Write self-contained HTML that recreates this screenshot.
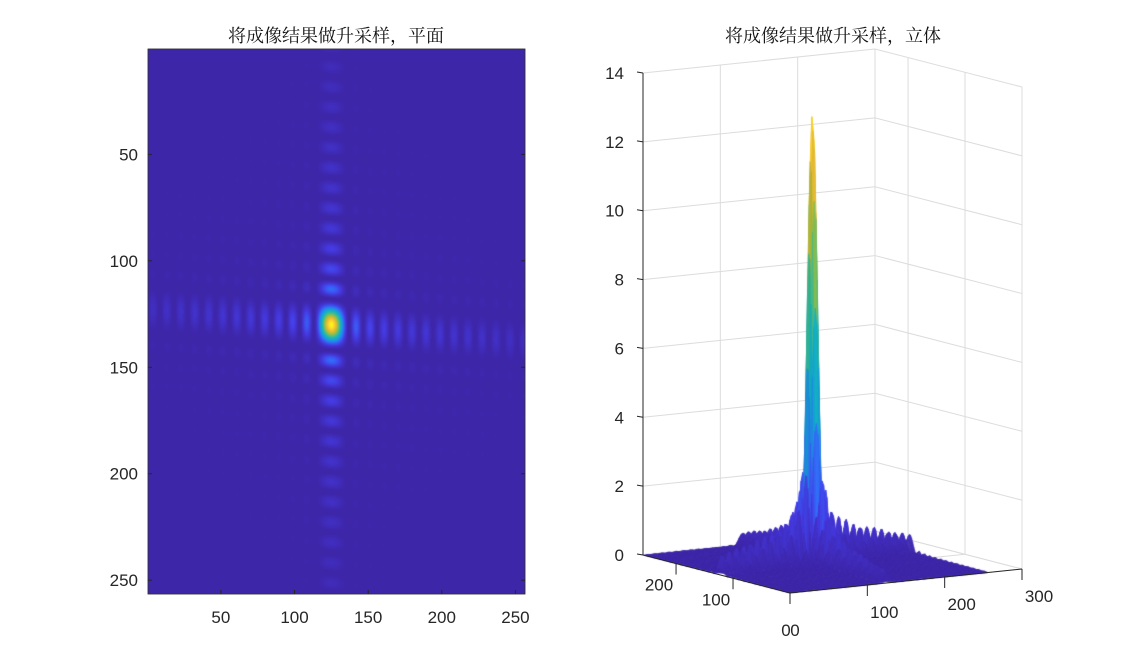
<!DOCTYPE html>
<html><head><meta charset="utf-8">
<style>
body{margin:0;background:#fff;width:1129px;height:667px;overflow:hidden;position:relative;font-family:"Liberation Sans",sans-serif}
canvas,svg{position:absolute;left:0;top:0}
</style></head>
<body>
<canvas id="cv" width="1129" height="667"></canvas>
<svg id="sv" width="1129" height="667"></svg>
<script>
// ---- data ----
const peakValue = 13.1;
const peakCol = 125;
const peakRow = 130;
const ridgeTilt = 0.059;
const lobePeriod = 9.5;
const mainHalfWidth = 12;
const hLobes = [1, 0.17, 0.12, 0.1, 0.09, 0.08, 0.075, 0.07, 0.065, 0.06, 0.055, 0.05, 0.045, 0.04];
const vLobes = [1, 0.2, 0.13, 0.1, 0.08, 0.07, 0.06, 0.055, 0.05, 0.045, 0.04, 0.035, 0.03, 0.025];
const imgXTicks = [50, 100, 150, 200, 250];
const imgYTicks = [50, 100, 150, 200, 250];
const zTicks = [0, 2, 4, 6, 8, 10, 12, 14];
const xTicks3 = [0, 100, 200, 300];
const yTicks3 = [0, 100, 200];
const N = 256;

function prof(d, lobes){
  d = Math.abs(d); const P = lobePeriod, W = mainHalfWidth;
  if (d < W) { const c = Math.cos(Math.PI*d/(2*W)); return c*c; }
  const k = Math.floor((d-W)/P)+1;
  if (k >= lobes.length) return 0;
  const s = Math.sin(Math.PI*(d-W-(k-1)*P)/P); return lobes[k]*s*s;
}
function val(c, r){
  const dr = r - (peakRow + ridgeTilt*(c-peakCol));
  const dc = c - peakCol;
  return peakValue * prof(dc, hLobes) * prof(dr, vLobes);
}
const stops=[[0,62,38,168],[0.1,70,60,230],[0.2,50,110,250],[0.3,30,150,225],[0.4,15,175,205],[0.5,35,185,170],[0.6,90,192,120],[0.7,160,190,65],[0.8,215,185,50],[0.9,252,195,55],[1,249,250,20]];
function parula(t){
  t=Math.max(0,Math.min(1,t));
  for(let i=1;i<stops.length;i++){ if(t<=stops[i][0]){const a=stops[i-1],b=stops[i],f=(t-a[0])/(b[0]-a[0]);
    return [a[1]+f*(b[1]-a[1]),a[2]+f*(b[2]-a[2]),a[3]+f*(b[3]-a[3])];}}
  return stops[stops.length-1].slice(1);
}
const cv=document.getElementById('cv'), ctx=cv.getContext('2d');
const sv=document.getElementById('sv'), NS='http://www.w3.org/2000/svg';
function el(tag, attrs, text){const e=document.createElementNS(NS,tag);for(const k in attrs)e.setAttribute(k,attrs[k]);if(text!==undefined)e.textContent=text;sv.appendChild(e);return e;}

// ---- left image ----
const L={x:148,y:49,w:377,h:545};
const ix=c=>L.x+(c-0.5)*L.w/N, iy=r=>L.y+(r-0.5)*L.h/N;
const off=document.createElement('canvas');off.width=N;off.height=N;
const octx=off.getContext('2d');const img=octx.createImageData(N,N);
for(let r=1;r<=N;r++)for(let c=1;c<=N;c++){
  const col=parula(val(c,r)/peakValue);const k=((r-1)*N+(c-1))*4;
  img.data[k]=col[0];img.data[k+1]=col[1];img.data[k+2]=col[2];img.data[k+3]=255;
}
octx.putImageData(img,0,0);
ctx.imageSmoothingEnabled=true;
ctx.drawImage(off,L.x,L.y,L.w,L.h);
let e=el('rect',{x:L.x,y:L.y,width:L.w,height:L.h,fill:'none',stroke:'#262626','stroke-width':0.8});

imgXTicks.forEach(t=>{const x=ix(t);
  el('line',{x1:x,y1:L.y+L.h,x2:x,y2:L.y+L.h-4,stroke:'#262626'});
  e=el('text',{x:x,y:623,'text-anchor':'middle','font-size':17,fill:'#262626'},t);
  });
imgYTicks.forEach(t=>{const y=iy(t);
  el('line',{x1:L.x,y1:y,x2:L.x+4,y2:y,stroke:'#262626'});
  el('line',{x1:L.x+L.w,y1:y,x2:L.x+L.w-4,y2:y,stroke:'#262626'});
  e=el('text',{x:138,y:y+6,'text-anchor':'end','font-size':17,fill:'#262626'},t);
  });
e=el('text',{x:336,y:42,'text-anchor':'middle','font-size':18,fill:'#111','font-family':'"Noto Serif CJK SC","Noto Sans CJK SC",serif'},'将成像结果做升采样，平面');


// ---- right 3D ----
const O={x:790,y:593}, XMAX=300, YMAX=258, ZS=482/14;
const ex={x:232/300,y:-24/300}, ey={x:-147/YMAX,y:-38/YMAX};
function P3(x,y,z){return [O.x+x*ex.x+y*ey.x, O.y+x*ex.y+y*ey.y-z*ZS];}
const g='#dcdcdc';
zTicks.forEach(z=>{const a=P3(0,YMAX,z),b=P3(XMAX,YMAX,z),c=P3(XMAX,0,z);
  el('polyline',{points:`${a} ${b} ${c}`,fill:'none',stroke:g,'stroke-width':1});});
xTicks3.forEach(x=>{const a=P3(x,YMAX,0),b=P3(x,YMAX,14);el('line',{x1:a[0],y1:a[1],x2:b[0],y2:b[1],stroke:g});});
yTicks3.forEach(y=>{const a=P3(XMAX,y,0),b=P3(XMAX,y,14);el('line',{x1:a[0],y1:a[1],x2:b[0],y2:b[1],stroke:g});});
xTicks3.forEach(x=>{const a=P3(x,0,0),b=P3(x,YMAX,0);el('line',{x1:a[0],y1:a[1],x2:b[0],y2:b[1],stroke:g});});
yTicks3.forEach(y=>{const a=P3(0,y,0),b=P3(XMAX,y,0);el('line',{x1:a[0],y1:a[1],x2:b[0],y2:b[1],stroke:g});});
const cv2=document.createElement('canvas');cv2.width=1129;cv2.height=667;


cv2.style.position='absolute';cv2.style.left='0';cv2.style.top='0';
document.body.appendChild(cv2);
const c2=cv2.getContext('2d');
const S=2, M=N/S;
const Z=[];for(let i=0;i<=M;i++){Z[i]=[];for(let j=0;j<=M;j++)Z[i][j]=val(1+i*S*(N-1)/N,1+j*S*(N-1)/N);}
const quads=[];
for(let i=0;i<M;i++)for(let j=0;j<M;j++)quads.push([i,j]);
quads.sort((a,b)=>(b[0]+b[1])-(a[0]+a[1]));
quads.forEach(([i,j])=>{
  const x0=i*S,x1=(i+1)*S,y0=j*S,y1=(j+1)*S;
  const z00=Z[i][j],z10=Z[i+1][j],z11=Z[i+1][j+1],z01=Z[i][j+1];
  const zm=(z00+z10+z11+z01)/4;
  const col=parula(zm/peakValue);
  const sh=1-Math.min(0.12,Math.abs(z10-z00)*0.02);
  c2.fillStyle=`rgb(${col[0]*sh|0},${col[1]*sh|0},${col[2]*sh|0})`;
  c2.strokeStyle=c2.fillStyle;c2.lineWidth=0.6;
  c2.beginPath();
  let p=P3(x0,y0,z00);c2.moveTo(p[0],p[1]);
  p=P3(x1,y0,z10);c2.lineTo(p[0],p[1]);
  p=P3(x1,y1,z11);c2.lineTo(p[0],p[1]);
  p=P3(x0,y1,z01);c2.lineTo(p[0],p[1]);
  c2.closePath();c2.fill();c2.stroke();
});
const sv2=document.createElementNS(NS,'svg');sv2.setAttribute('width',1129);sv2.setAttribute('height',667);


sv2.style.position='absolute';sv2.style.left='0';sv2.style.top='0';document.body.appendChild(sv2);
function el2(tag, attrs, text){const e=document.createElementNS(NS,tag);for(const k in attrs)e.setAttribute(k,attrs[k]);if(text!==undefined)e.textContent=text;sv2.appendChild(e);return e;}
const ax='#262626';
let a=P3(0,YMAX,0),b=P3(0,YMAX,14);
e=el2('line',{x1:a[0],y1:a[1],x2:b[0],y2:b[1],stroke:ax});
a=P3(0,0,0);b=P3(XMAX,0,0);
e=el2('line',{x1:a[0],y1:a[1],x2:b[0],y2:b[1],stroke:ax});
b=P3(0,YMAX,0);
e=el2('line',{x1:a[0],y1:a[1],x2:b[0],y2:b[1],stroke:ax});
zTicks.forEach(z=>{const p=P3(0,YMAX,z);
  el2('line',{x1:p[0],y1:p[1],x2:p[0]-6,y2:p[1]-1,stroke:ax});
  e=el2('text',{x:624,y:p[1]+6,'text-anchor':'end','font-size':17,fill:ax},z);
  });
xTicks3.forEach(x=>{const p=P3(x,0,0);
  el2('line',{x1:p[0],y1:p[1],x2:p[0],y2:p[1]+11,stroke:ax});
  e=el2('text',{x:p[0]+(x===0?5:17),y:p[1]+(x===0?43:33),'text-anchor':'middle','font-size':17,fill:ax},x);
  });
yTicks3.forEach(y=>{const p=P3(0,y,0);
  el2('line',{x1:p[0],y1:p[1],x2:p[0],y2:p[1]+11,stroke:ax});
  e=el2('text',{x:p[0]-(y===0?4:17),y:p[1]+(y===0?43:27),'text-anchor':'middle','font-size':17,fill:ax},y);
  });
e=el2('text',{x:833,y:42,'text-anchor':'middle','font-size':18,fill:'#111','font-family':'"Noto Serif CJK SC","Noto Sans CJK SC",serif'},'将成像结果做升采样，立体');

</script>
</body></html>
